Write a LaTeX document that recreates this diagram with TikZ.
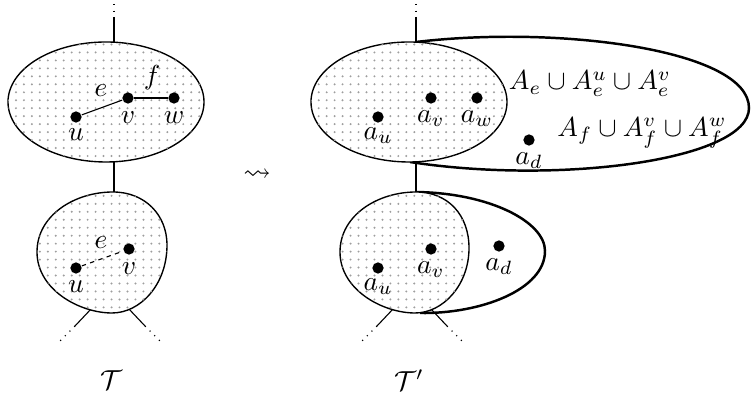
\documentclass[tikz,border=0pt]{standalone}
\usepackage{amssymb}
\usetikzlibrary{patterns.meta}
\begin{document}
\begin{tikzpicture}[x=0.364pt,y=-0.364pt,
  vtx/.style={circle,fill=black,inner sep=0pt,minimum size=4.1pt},
  bag/.style={draw=black,line width=0.5pt,fill=white,
    postaction={pattern={Dots[distance=2.9pt,radius=0.4pt]},pattern color=black!38}},
  outer/.style={draw=black,line width=0.9pt},
  tl/.style={line width=0.4pt},
  lbl/.style={inner sep=0pt}]
\useasboundingbox (0,0) rectangle (751,403);

% ---------------- left tree T ----------------
\coordinate (L0) at (114,4);
\coordinate (L1) at (114,17);
\coordinate (Ltop) at (114,42);
\coordinate (Lbot) at (114,162);
\coordinate (Lb2) at (114,195);
\coordinate (Lbl1) at (92,308);
\coordinate (Lbl2) at (75,326);
\coordinate (Lbl3) at (60,341);
\coordinate (Lbr1) at (128,308);
\coordinate (Lbr2) at (145,326);
\coordinate (Lbr3) at (160,341);
\draw[tl,dotted] (L0) -- (L1);
\draw[tl] (L1) -- (Ltop);
\draw[tl] (Lbot) -- (Lb2);
\draw[tl] (Lbl1) -- (Lbl2);
\draw[tl,dotted] (Lbl2) -- (Lbl3);
\draw[tl] (Lbr1) -- (Lbr2);
\draw[tl,dotted] (Lbr2) -- (Lbr3);

\path[bag] (106,102) ellipse [x radius=98, y radius=60];
\path[bag] (113,192) .. controls (145,192) and (167,215) .. (167,245)
  .. controls (167,285) and (140,313) .. (112,313)
  .. controls (80,313) and (37,290) .. (37,252)
  .. controls (37,215) and (75,192) .. (113,192) -- cycle;

\node[vtx] (u1) at (76,117) {};
\node[vtx] (v1) at (128,98) {};
\node[vtx] (w1) at (174,98) {};
\draw[tl] (u1) -- (v1);
\draw[tl] (v1) -- (w1);
\node[lbl] (lu1) at (76,135) {$u$};
\node[lbl] (lv1) at (128,118) {$v$};
\node[lbl] (lw1) at (174,118) {$w$};
\node[lbl] (le1) at (101,91) {$e$};
\node[lbl] (lf1) at (152,78) {$f$};

\node[vtx] (u2) at (76,268) {};
\node[vtx] (v2) at (129,249) {};
\draw[tl,dash pattern=on 1.6pt off 1.6pt] (u2) -- (v2);
\node[lbl] (lu2) at (76,287) {$u$};
\node[lbl] (lv2) at (129,269) {$v$};
\node[lbl] (le2) at (101,243) {$e$};

\node[lbl] (T) at (111,380) {$\mathcal{T}$};

% ---------------- arrow ----------------
\node[lbl] (arr) at (257,175) {$\rightsquigarrow$};

% ---------------- right tree T' ----------------
\coordinate (R0) at (416,4);
\coordinate (R1) at (416,17);
\coordinate (Rtop) at (416,42);
\coordinate (Rbot) at (416,162);
\coordinate (Rb2) at (416,195);
\coordinate (Rbl1) at (394,308);
\coordinate (Rbl2) at (377,326);
\coordinate (Rbl3) at (362,341);
\coordinate (Rbr1) at (430,308);
\coordinate (Rbr2) at (447,326);
\coordinate (Rbr3) at (462,341);
\draw[tl,dotted] (R0) -- (R1);
\draw[tl] (R1) -- (Rtop);
\draw[tl] (Rbot) -- (Rb2);
\draw[tl] (Rbl1) -- (Rbl2);
\draw[tl,dotted] (Rbl2) -- (Rbl3);
\draw[tl] (Rbr1) -- (Rbr2);
\draw[tl,dotted] (Rbr2) -- (Rbr3);

\coordinate (Ra) at (416,42);
\coordinate (Rr) at (749,108);
\coordinate (Rz) at (410,162);
\draw[outer] (Ra) .. controls (560,25) and (749,50) .. (Rr)
  .. controls (749,160) and (560,185) .. (Rz);
\coordinate (Sa) at (416,192);
\coordinate (Sr) at (545,251);
\coordinate (Sz) at (420,313);
\draw[outer] (Sa) .. controls (490,193) and (545,222) .. (Sr)
  .. controls (545,290) and (480,314) .. (Sz);

\path[bag] (409,102) ellipse [x radius=98, y radius=60];
\path[bag] (416,192) .. controls (448,192) and (469,215) .. (469,248)
  .. controls (469,285) and (443,313) .. (415,313)
  .. controls (383,313) and (340,290) .. (340,252)
  .. controls (340,215) and (378,192) .. (416,192) -- cycle;

\node[vtx] (au1) at (378,117) {};
\node[vtx] (av1) at (431,98) {};
\node[vtx] (aw1) at (477,98) {};
\node[vtx] (ad1) at (529,140) {};
\node[lbl] (lau1) at (378,136) {$a_u$};
\node[lbl] (lav1) at (431,119) {$a_v$};
\node[lbl] (law1) at (477,119) {$a_w$};
\node[lbl] (lad1) at (529,161) {$a_d$};
\node[lbl] (Ae) at (590,84) {$A_e\cup A_e^u\cup A_e^v$};
\node[lbl] (Af) at (642,133) {$A_f\cup A_f^v\cup A_f^w$};

\node[vtx] (au2) at (378,268) {};
\node[vtx] (av2) at (431,249) {};
\node[vtx] (ad2) at (499,246) {};
\node[lbl] (lau2) at (378,287) {$a_u$};
\node[lbl] (lav2) at (431,270) {$a_v$};
\node[lbl] (lad2) at (499,267) {$a_d$};

\node[lbl] (Tp) at (409,380) {$\mathcal{T}'$};
\end{tikzpicture}
\end{document}
